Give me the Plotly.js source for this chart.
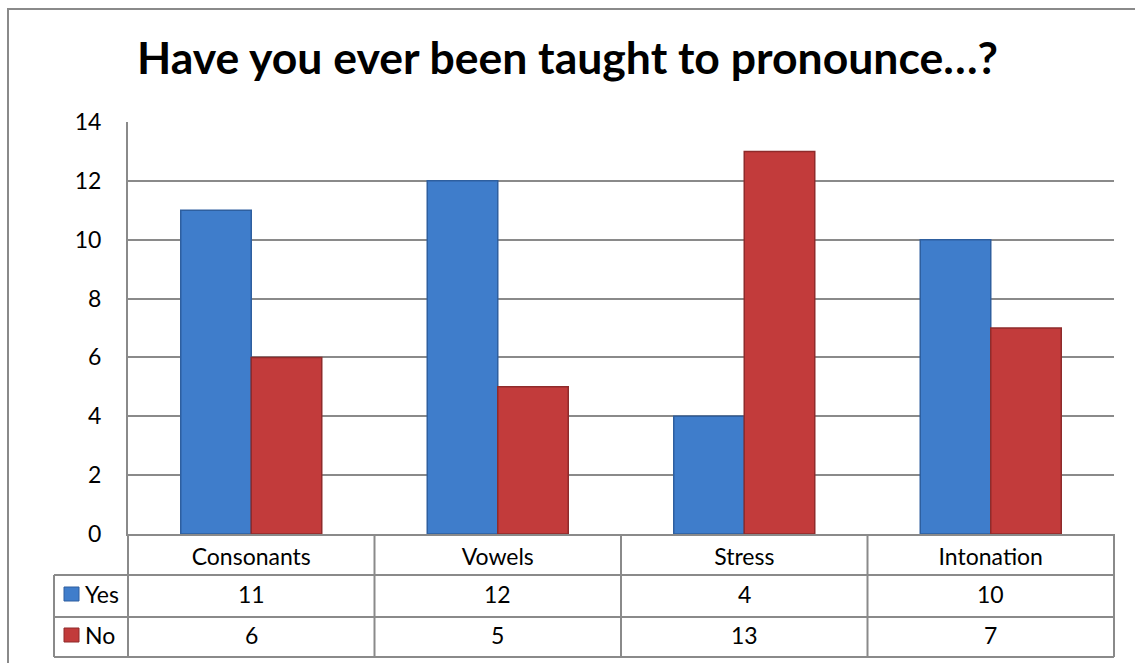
<!DOCTYPE html>
<html>
<head>
<meta charset="utf-8">
<script src="https://cdn.plot.ly/plotly-3.0.1.min.js"></script>
<style>html,body{margin:0;padding:0;background:#fff;}#chart{width:1135px;height:663px;}</style>
</head>
<body>
<div id="chart"></div>
<script>
const categories = ["Consonants", "Vowels", "Stress", "Intonation"];
const seriesNames = ["Yes", "No"];
const yesValues = [11, 12, 4, 10];
const noValues = [6, 5, 13, 7];
const yTicks = [0, 2, 4, 6, 8, 10, 12, 14];
const titleText = "Have you ever been taught to pronounce…?";

const W = 1135, H = 663;
const L = 128, R = 21, T = 122, B = 129;
const pw = W - L - R, ph = H - T - B;
const px = v => (v - L) / pw;          // pixel x -> paper x
const py = v => (H - B - v) / ph;      // pixel y -> paper y

const FONT = "Lato, 'Liberation Sans', sans-serif";
const gridCol = "#8a8a8a";
const colors = ["#3F7DCB", "#C23B3B"];
const lineColors = ["#2E5F9F", "#8F2B2B"];
const allValues = [yesValues, noValues];
const FS = 23;

const traces = seriesNames.map((name, i) => ({
  type: "bar",
  name: name,
  x: categories,
  y: allValues[i],
  marker: { color: colors[i], line: { color: lineColors[i], width: 1.5 } },
  showlegend: false,
  hoverinfo: "x+y+name"
}));

const shapes = [];
const annotations = [];
const lineStyle = { color: gridCol, width: 2 };

// outer chart border
shapes.push({ type: "rect", xref: "paper", yref: "paper",
  x0: px(8), x1: px(1145), y0: py(9), y1: py(675),
  line: { color: "#8a8a8a", width: 2 } });

// table grid: horizontal lines
const rowLines = [575, 617, 657];
rowLines.forEach(yv => shapes.push({ type: "line", xref: "paper", yref: "paper",
  x0: px(54), x1: 1, y0: py(yv), y1: py(yv), line: lineStyle }));
// vertical lines between categories and right border
for (let k = 0; k <= categories.length; k++) {
  const xv = k / categories.length;
  shapes.push({ type: "line", xref: "paper", yref: "paper",
    x0: xv, x1: xv, y0: 0, y1: py(657), line: lineStyle });
}
// left legend column border
shapes.push({ type: "line", xref: "paper", yref: "paper",
  x0: px(54), x1: px(54), y0: py(575), y1: py(657), line: lineStyle });

// table values and legend keys
const rowCenters = [594, 635];
seriesNames.forEach((name, i) => {
  shapes.push({ type: "rect", xref: "paper", yref: "paper",
    x0: px(64), x1: px(79), y0: py(rowCenters[i] - 7), y1: py(rowCenters[i] + 7),
    fillcolor: colors[i], line: { color: lineColors[i], width: 1 } });
  annotations.push({ xref: "paper", yref: "paper", x: px(83), y: py(rowCenters[i]),
    xanchor: "left", yanchor: "middle", showarrow: false, text: name,
    font: { family: FONT, size: FS, color: "#000" } });
  categories.forEach((c, j) => {
    annotations.push({ xref: "x", yref: "paper", x: c, y: py(rowCenters[i]),
      xanchor: "center", yanchor: "middle", showarrow: false,
      text: String(allValues[i][j]),
      font: { family: FONT, size: FS, color: "#000" } });
  });
});

const layout = {
  width: W, height: H,
  margin: { l: L, r: R, t: T, b: B, pad: 0 },
  paper_bgcolor: "#fff", plot_bgcolor: "#fff",
  barmode: "group", bargap: 0.428, bargroupgap: 0,
  title: { text: "<b>" + titleText + "</b>", x: 0.5, xanchor: "center",
    y: 1 - 58 / H, yanchor: "middle", yref: "container",
    font: { family: FONT, size: 44.5, color: "#000" } },
  xaxis: {
    type: "category", showgrid: false, zeroline: false,
    showline: true, linecolor: gridCol, linewidth: 2,
    ticks: "", ticklabelstandoff: 1,
    tickfont: { family: FONT, size: FS, color: "#000" },
    fixedrange: true
  },
  yaxis: {
    range: [0, 14], tickvals: yTicks, ticktext: yTicks.map(String),
    showgrid: true, gridcolor: gridCol, gridwidth: 2,
    zeroline: false, showline: true, linecolor: gridCol, linewidth: 2,
    ticks: "", ticklabelstandoff: 20,
    tickfont: { family: FONT, size: FS, color: "#000" },
    fixedrange: true
  },
  shapes: shapes,
  annotations: annotations
};

Plotly.newPlot("chart", traces, layout, { displayModeBar: false, staticPlot: false });
</script>
</body>
</html>
